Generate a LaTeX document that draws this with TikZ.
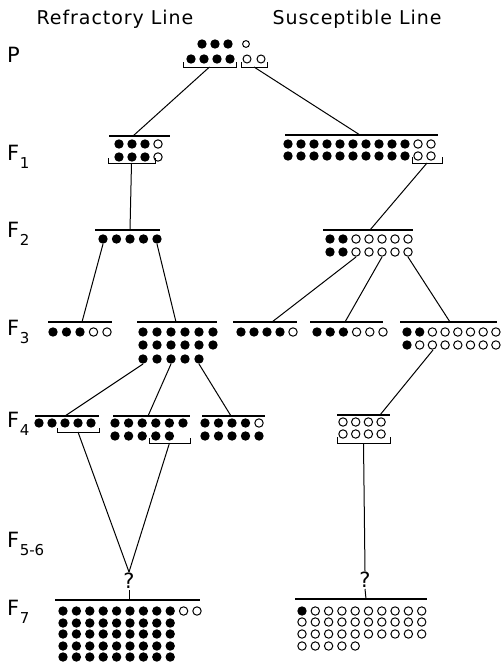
\documentclass[tikz,border=0pt]{standalone}
\usepackage{fontspec}
\setmainfont{DejaVu Sans}
\newfontfamily\headfont[LetterSpace=5]{DejaVu Sans}

% generation label with subscript
\newcommand{\gen}[1]{F\kern0.5pt\raisebox{-0.65ex}{\fontsize{15}{15}\selectfont #1}}
% one row of plants: first x, y, filled, open, spacing
\newcommand{\plantrow}[5]{%
  \ifnum#3>0 \foreach \k in {1,...,#3} \fill[refr] ({#1+(\k-1)*#5},#2) circle (4.7pt); \fi
  \ifnum#4>0 \foreach \k in {1,...,#4} \draw[susc] ({#1+(#3+\k-1)*#5},#2) circle (4.2pt); \fi
}
% sib line: x from, x to, y, x where the parent line meets it, name
\newcommand{\sibs}[5]{\draw[bar] (#1,#3) -- (#2,#3); \coordinate (#5) at (#4,#3);}
% bracket under the selected plants: x from, x to, y top, y bottom, name
\newcommand{\pick}[5]{\draw[brace] (#1,#3) -- (#1,#4) -- (#2,#4) -- (#2,#3);
  \coordinate (#5) at ({(#1+#2)/2},#4);}

\begin{document}
\begin{tikzpicture}[x=1pt, y=-1pt]
    \tikzstyle{every node} = [inner sep=1pt, font=\fontsize{21}{24}\selectfont]
    \tikzstyle{head} = [font=\fontsize{19}{22}\selectfont\headfont]
    \tikzstyle{refr} = [fill=black]
    \tikzstyle{susc} = [draw=black, line width=1pt]
    \tikzstyle{bar} = [line width=1.4pt]
    \tikzstyle{brace} = [line width=1pt]
    \tikzstyle{link} = [line width=1pt]
    \useasboundingbox (0,0) rectangle (502,664);

    \node (headR) [head] at (115,19) {Refractory Line};
    \node (headS) [head] at (357,19) {Susceptible Line};
    \node (genP) [anchor=west] at (6,55) {P};
    \node (genF1) [anchor=west] at (6,157) {\gen{1}};
    \node (genF2) [anchor=west] at (6,234) {\gen{2}};
    \node (genF3) [anchor=west] at (6,332) {\gen{3}};
    \node (genF4) [anchor=west] at (6,424) {\gen{4}};
    \node (genF56) [anchor=west] at (6,544) {\gen{5-6}};
    \node (genF7) [anchor=west] at (6,612) {\gen{7}};

    % P
    \plantrow{202}{44}{3}{0}{13}
    \plantrow{191}{59}{4}{0}{13}
    \draw[susc] (246,44) circle (3.4pt) (247,59) circle (4pt) (261,59) circle (4pt);
    \pick{183}{236}{62}{67}{pR}
    \pick{241}{267}{62}{67}{pS}

    % F1
    \sibs{109}{170}{136}{133}{f1R-top}
    \plantrow{119}{144}{3}{1}{13}
    \plantrow{119}{157}{3}{1}{13}
    \pick{108}{155}{158}{163}{f1R}
    \sibs{285}{438}{135}{360}{f1S-top}
    \plantrow{288}{144}{10}{2}{13}
    \plantrow{288}{156}{10}{2}{13}
    \pick{412}{442}{157}{163}{f1S}

    % F2
    \sibs{95}{160}{230}{130}{f2R-top}
    \plantrow{103}{239}{5}{0}{13.5}
    \coordinate (f2R-a) at (103,244);
    \coordinate (f2R-b) at (157,244);
    \sibs{323}{413}{230}{370}{f2S-top}
    \plantrow{330}{239}{2}{5}{13}
    \plantrow{330}{252}{2}{5}{13}
    \coordinate (f2S-a) at (356,257);
    \coordinate (f2S-b) at (382,257);
    \coordinate (f2S-c) at (408,257);

    % F3
    \sibs{48}{112}{322}{82}{f3R1-top}
    \plantrow{53}{332}{3}{2}{13.5}
    \sibs{137}{217}{322}{176}{f3R2-top}
    \plantrow{143}{332}{6}{0}{14}
    \plantrow{143}{345}{6}{0}{14}
    \plantrow{143}{359}{5}{0}{14}
    \coordinate (f3R-a) at (143,364);
    \coordinate (f3R-b) at (171,364);
    \coordinate (f3R-c) at (199,364);
    \sibs{233}{297}{322}{272}{f3S1-top}
    \plantrow{241}{332}{4}{1}{13}
    \sibs{310}{383}{322}{345}{f3S2-top}
    \plantrow{317}{332}{3}{3}{13.2}
    \sibs{400}{497}{322}{450}{f3S3-top}
    \plantrow{407}{332}{2}{6}{12.7}
    \plantrow{407}{345}{1}{7}{12.7}
    \coordinate (f3S-c) at (433,350);

    % F4
    \sibs{35}{99}{416}{65}{f4R1-top}
    \plantrow{39}{423}{5}{0}{13}
    \pick{57}{99}{428}{432}{f4R1}
    \sibs{113}{190}{416}{148}{f4R2-top}
    \plantrow{115}{423}{6}{0}{13.6}
    \plantrow{115}{436}{5}{0}{13.6}
    \pick{149}{190}{438}{443}{f4R2}
    \sibs{202}{265}{416}{231}{f4R3-top}
    \plantrow{205}{423}{4}{1}{13.5}
    \plantrow{205}{436}{5}{0}{13.5}
    \sibs{337}{390}{415}{380}{f4S-top}
    \plantrow{343}{422}{0}{4}{12.7}
    \plantrow{343}{434}{0}{4}{12.7}
    \pick{337}{390}{437}{443}{f4S}

    % F5-6
    \node (qR) at (129,581) {?};
    \node (qS) at (365,580) {?};

    % F7
    \sibs{55}{200}{600}{129}{f7R-top}
    \plantrow{63}{611}{9}{2}{13.4}
    \foreach \y in {623,634,646,657} {\plantrow{63}{\y}{9}{0}{13.4}}
    \sibs{295}{427}{599}{366}{f7S-top}
    \plantrow{302}{611}{1}{9}{13.3}
    \plantrow{302}{622}{0}{10}{13.3}
    \plantrow{302}{634}{0}{10}{13.3}
    \plantrow{302}{646}{0}{5}{13.3}

    % descent
    \draw[link] (pR) -- (f1R-top);
    \draw[link] (pS) -- (f1S-top);
    \draw[link] (f1R) -- (f2R-top);
    \draw[link] (f1S) -- (f2S-top);
    \draw[link] (f2R-a) -- (f3R1-top);
    \draw[link] (f2R-b) -- (f3R2-top);
    \draw[link] (f2S-a) -- (f3S1-top);
    \draw[link] (f2S-b) -- (f3S2-top);
    \draw[link] (f2S-c) -- (f3S3-top);
    \draw[link] (f3R-a) -- (f4R1-top);
    \draw[link] (f3R-b) -- (f4R2-top);
    \draw[link] (f3R-c) -- (f4R3-top);
    \draw[link] (f3S-c) -- (f4S-top);
    \draw[link] (f4R1) -- (qR.north);
    \draw[link] (f4R2) -- (qR.north);
    \draw[link] (f4S) -- (qS.north);
    \draw[link] (qR.south) -- (f7R-top);
    \draw[link] (qS.south) -- (f7S-top);
\end{tikzpicture}
\end{document}
